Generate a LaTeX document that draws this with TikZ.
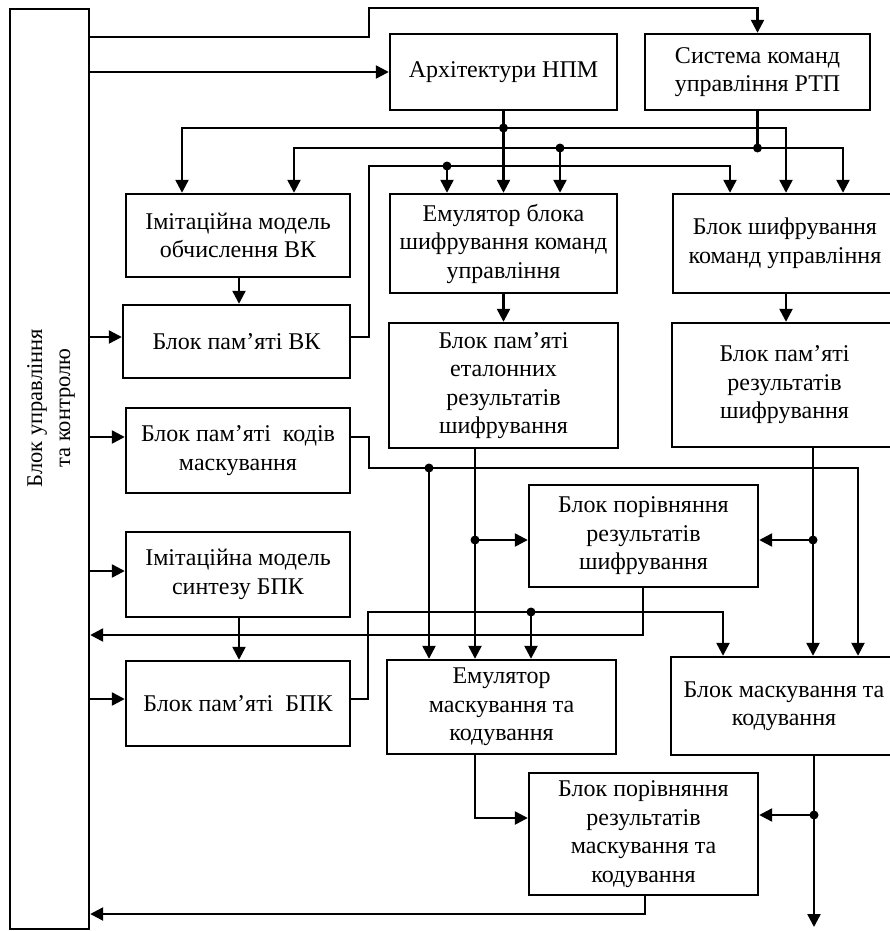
\documentclass[tikz,border=0pt]{standalone}
\usepackage{fontspec}
\setmainfont{Liberation Serif}
\usetikzlibrary{arrows.meta}
\begin{document}
\begin{tikzpicture}[x=1pt,y=-1pt,
  box/.style={draw, line width=2.4pt, inner sep=0pt, align=center,
    font=\fontsize{24}{28.5}\selectfont},
  arr/.style={line width=2.4pt, -{Triangle[length=13pt,width=13pt]}},
  ln/.style={line width=2.4pt},
  jdot/.style={circle, fill, inner sep=0pt, minimum size=9pt}]
\useasboundingbox (0,0) rectangle (890,931);
% boxes
\node[box, minimum width=79pt, minimum height=920pt] (ctl) at (49.5,469) {};
\node[rotate=90, align=center, inner sep=0pt, font=\fontsize{22.5}{28}\selectfont] (ctltext) at (51,408) {Блок управління\\та контролю};
\node[box, minimum width=227pt, minimum height=76pt] (npm) at (503.5,72) {Архітектури НПМ};
\node[box, minimum width=225pt, minimum height=76pt] (sys) at (757.5,72) {Система команд\\управління РТП};
\node[box, minimum width=224pt, minimum height=83pt] (imvk) at (238,235.5) {Імітаційна модель\\обчислення ВК};
\node[box, minimum width=227pt, minimum height=99pt] (emu1) at (503.5,243.5) {Емулятор блока\\шифрування команд\\управління};
\node[box, minimum width=224pt, minimum height=99pt] (shf) at (785,243.5) {Блок шифрування\\команд управління};
\node[box, minimum width=227pt, minimum height=73pt] (memvk) at (236.5,341.5) {Блок пам’яті ВК};
\node[box, minimum width=229pt, minimum height=125pt] (memet) at (503.5,385.5) {Блок пам’яті\\еталонних\\результатів\\шифрування};
\node[box, minimum width=225pt, minimum height=124pt] (memres) at (784.5,385) {Блок пам’яті\\результатів\\шифрування};
\node[box, minimum width=224pt, minimum height=85pt] (memkod) at (238,450.5) {Блок пам’яті\ \ кодів\\маскування};
\node[box, minimum width=229pt, minimum height=102pt] (cmpsh) at (643.5,536) {Блок порівняння\\результатів\\шифрування};
\node[box, minimum width=224pt, minimum height=85pt] (imbpk) at (238,574.5) {Імітаційна модель\\синтезу БПК};
\node[box, minimum width=224pt, minimum height=85pt] (membpk) at (238,703.5) {Блок пам’яті\ \ БПК};
\node[box, minimum width=229pt, minimum height=94pt] (emumk) at (501.5,707) {Емулятор\\маскування та\\кодування};
\node[box, minimum width=226pt, minimum height=98pt] (mk) at (784,706) {Блок маскування та\\кодування};
\node[box, minimum width=229pt, minimum height=122pt] (cmpmk) at (643.5,834) {Блок порівняння\\результатів\\маскування та\\кодування};
\coordinate (out) at (814,927);
% connectors from control block
\draw[arr] (ctl.east |- 0,37) -- (369,37) -- (369,8) -- (sys.north |- 0,8) -- (sys.north);
\draw[arr] (ctl.east |- npm.west) -- (npm.west);
\draw[arr] (ctl.east |- 0,337) -- (memvk.west |- 0,337);
\draw[arr] (ctl.east |- 0,437) -- (memkod.west |- 0,437);
\draw[arr] (ctl.east |- 0,571) -- (imbpk.west |- 0,571);
\draw[arr] (ctl.east |- 0,699) -- (membpk.west |- 0,699);
% NPM
\draw[arr] (npm.south) -- (emu1.north);
\draw[arr] (npm.south |- 0,128) -- (182,128) -- (182,0 |- imvk.north);
\draw[arr] (npm.south |- 0,128) -- (786,128) -- (786,0 |- shf.north);
\node[jdot] (d1) at (npm.south |- 0,128) {};
% System
\draw[ln] (sys.south) -- (sys.south |- 0,148);
\draw[arr] (sys.south |- 0,148) -- (294,148) -- (294,0 |- imvk.north);
\draw[arr] (sys.south |- 0,148) -- (843,148) -- (843,0 |- shf.north);
\draw[arr] (560,148) -- (560,0 |- emu1.north);
\node[jdot] (d2) at (sys.south |- 0,148) {};
\node[jdot] (d3) at (560,148) {};
% memory VK
\draw[arr] (memvk.east |- 0,337) -- (369,337) -- (369,166) -- (730,166) -- (730,0 |- shf.north);
\draw[arr] (447,166) -- (447,0 |- emu1.north);
\node[jdot] (d4) at (447,166) {};
% vertical chains
\draw[arr] (239,0 |- imvk.south) -- (239,0 |- memvk.north);
\draw[arr] (emu1.south) -- (memet.north);
\draw[arr] (786,0 |- shf.south) -- (786,0 |- memres.north);
% memory of masking codes
\draw[arr] (memkod.east |- 0,437) -- (369,437) -- (369,468) -- (858,468) -- (858,0 |- mk.north);
\draw[arr] (429,468) -- (429,0 |- emumk.north);
\node[jdot] (d5) at (429,468) {};
% reference results
\draw[arr] (475,0 |- memet.south) -- (475,0 |- emumk.north);
\draw[arr] (475,540) -- (cmpsh.west |- 0,540);
\node[jdot] (d6) at (475,540) {};
% encryption results
\draw[arr] (813,0 |- memres.south) -- (813,0 |- mk.north);
\draw[arr] (813,540) -- (cmpsh.east |- 0,540);
\node[jdot] (d7) at (813,540) {};
% comparison of encryption
\draw[arr] (643,0 |- cmpsh.south) -- (643,635) -- (ctl.east |- 0,635);
% BPK
\draw[arr] (239,0 |- imbpk.south) -- (239,0 |- membpk.north);
\draw[arr] (membpk.east |- 0,699) -- (368,699) -- (368,612) -- (723,612) -- (723,0 |- mk.north);
\draw[arr] (531,612) -- (531,0 |- emumk.north);
\node[jdot] (d8) at (531,612) {};
% masking emulator
\draw[arr] (475,0 |- emumk.south) -- (475,818) -- (cmpmk.west |- 0,818);
% masking block
\draw[arr] (814,0 |- mk.south) -- (out);
\draw[arr] (814,815) -- (cmpmk.east |- 0,815);
\node[jdot] (d9) at (814,815) {};
% comparison of masking
\draw[arr] (645,0 |- cmpmk.south) -- (645,914) -- (ctl.east |- 0,914);
\end{tikzpicture}
\end{document}
